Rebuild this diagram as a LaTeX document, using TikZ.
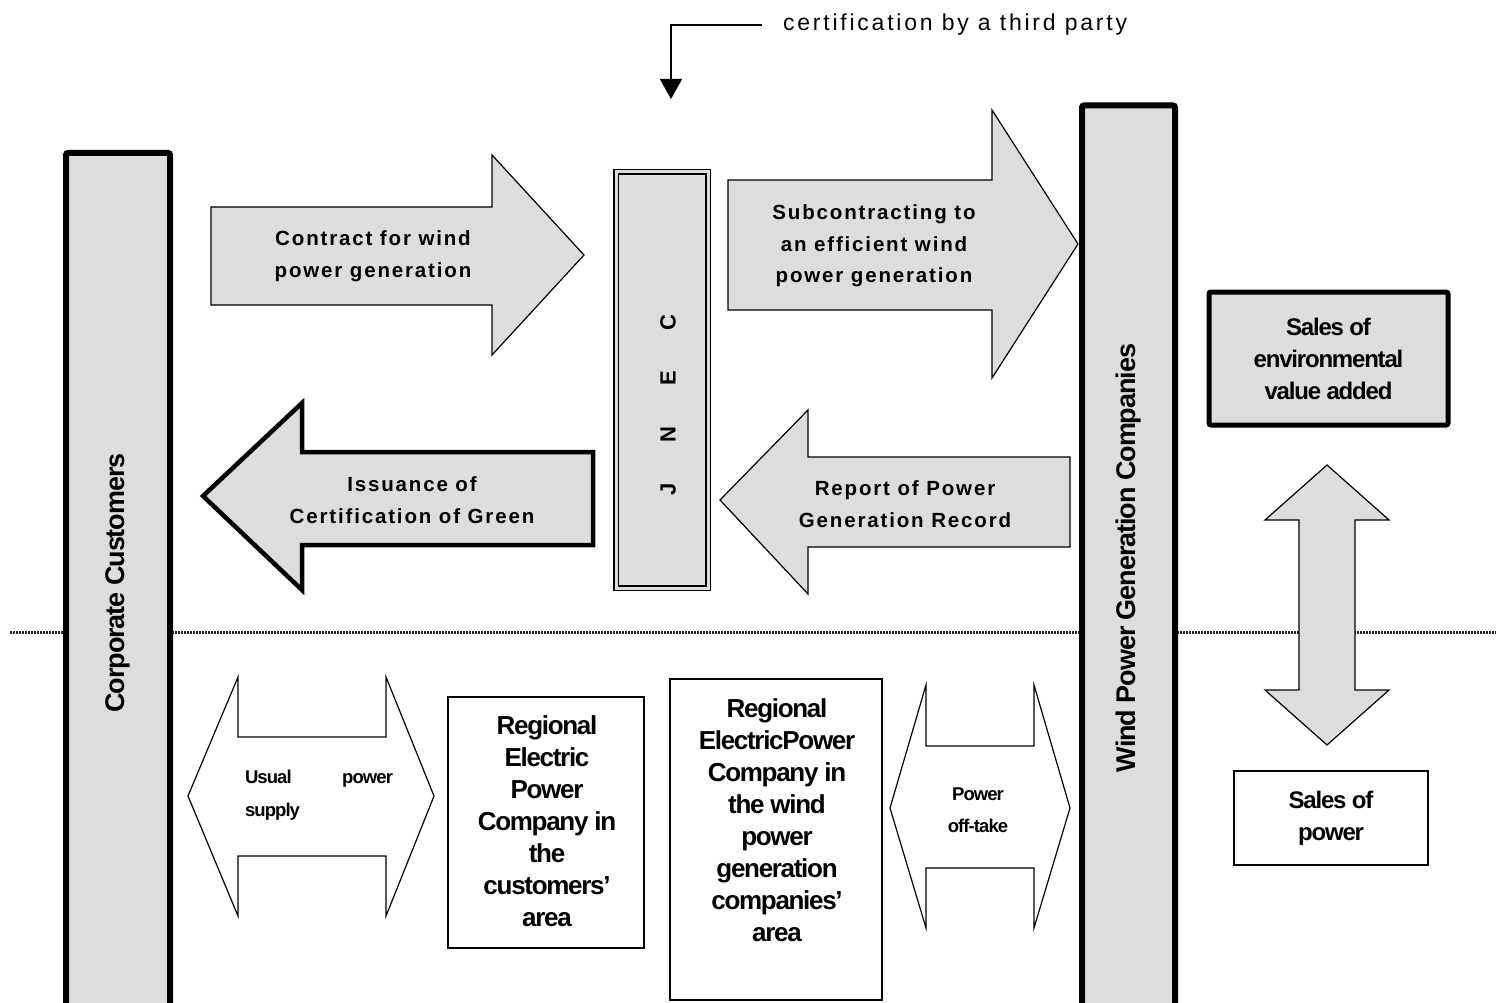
\documentclass[tikz,border=0pt]{standalone}
\usepackage{fontspec}
\setmainfont{Liberation Sans}
\usetikzlibrary{arrows.meta}
\definecolor{boxgray}{HTML}{DDDDDD}

\begin{document}
\begin{tikzpicture}
[%%%%%%%%%%%%%%%%%%%%%%%%%%%%%%
x=1pt,y=-1pt,
bar/.style={rectangle,draw=black,line width=6pt,fill=boxgray,rounded corners=2pt},
jnecbox/.style={rectangle,draw=black,double=boxgray,double distance=3pt,line width=1.2pt,fill=boxgray},
plainbox/.style={rectangle,draw=black,line width=1.5pt,fill=white},
fatarrow/.style={draw=black,line width=1.2pt,fill=boxgray,line join=miter},
openarrow/.style={draw=black,line width=1.2pt,fill=white,line join=miter},
uptxt/.style={font=\fontsize{20.5}{31.5}\selectfont\bfseries\addfontfeature{LetterSpace=9},align=center,inner sep=0pt},
lowtxt/.style={font=\fontsize{26}{32}\selectfont\bfseries\addfontfeature{LetterSpace=-5},align=center,inner sep=0pt},
saletxt/.style={font=\fontsize{24}{32}\selectfont\bfseries\addfontfeature{LetterSpace=-5},align=center},
smalltxt/.style={font=\fontsize{18.5}{32.5}\selectfont\bfseries\addfontfeature{LetterSpace=-5},inner sep=0pt},
bartxt/.style={font=\fontsize{27}{32}\selectfont\bfseries\addfontfeature{LetterSpace=-4}},
sepline/.style={line width=3.5pt,black!85,dash pattern=on 1.5pt off 1.5pt},
]%%%%%%%%%%%%%%%%%%%%%%%%%%%%%%
\useasboundingbox (0,0) rectangle (1496,1003);

% dotted border between the two levels
\draw[sepline] (10,632.5) -- (1496,632.5);

% the two big bars
\node[bar,bartxt,rotate=90,minimum width=860,minimum height=104] (corp) at (118,583) {Corporate Customers};
\node[bar,bartxt,rotate=90,minimum width=905,minimum height=93] (wind) at (1128.5,558) {Wind Power Generation Companies};

% JNEC
\node[jnecbox,rotate=90,minimum width=416,minimum height=92] (jnec) at (662,380) {};
\node[rotate=90,font=\fontsize{22}{24}\selectfont\bfseries,inner sep=0pt] (jnectxt) at (668,405) {\spaceskip=41pt\relax J N E C};

% third party
\node[font=\fontsize{23}{24}\selectfont\addfontfeature{LetterSpace=12},anchor=west,inner sep=0pt] (third) at (783,25) {certification by a third party};
\coordinate (thirdtip) at (671,99);
\draw[line width=1.5pt,-{Triangle[length=20pt,width=22pt]}] ([xshift=-21pt]third.west) -| (thirdtip);

% upper arrows
\draw[fatarrow] (211,207) -- (492,207) -- (492,155) -- (584,255) -- (492,355) -- (492,305) -- (211,305) -- cycle;
\node[uptxt] (contract) at (373,256) {Contract for wind\\power generation};

\draw[fatarrow] (728,180) -- (992,180) -- (992,110) -- (1078,244) -- (992,378) -- (992,310) -- (728,310) -- cycle;
\node[uptxt] (subcon) at (874,246) {Subcontracting to\\an efficient wind\\power generation};

\draw[fatarrow,line width=4.5pt] (593,452) -- (302,452) -- (302,403) -- (203,496) -- (302,590) -- (302,545) -- (593,545) -- cycle;
\node[uptxt] (issue) at (412,500) {Issuance of\\Certification of Green};

\draw[fatarrow] (1070,457) -- (808,457) -- (808,410) -- (720,500) -- (808,594) -- (808,547) -- (1070,547) -- cycle;
\node[uptxt] (report) at (905,504) {Report of Power\\Generation Record};

% right side
\node[bar,line width=5pt,saletxt,minimum width=239,minimum height=133] (envsale) at (1328.5,358.5) {Sales of\\environmental\\value added};
\node[plainbox,saletxt,minimum width=194,minimum height=94] (powsale) at (1331,818) {Sales of\\power};
\draw[fatarrow] (1327,465) -- (1389,520) -- (1355,520) -- (1355,690) -- (1389,690) -- (1327,745)
  -- (1265,690) -- (1299,690) -- (1299,520) -- (1265,520) -- cycle;

% lower level
\draw[openarrow] (188,796) -- (238,677) -- (238,737) -- (386,737) -- (386,677) -- (434,796)
  -- (386,916) -- (386,856) -- (238,856) -- (238,916) -- cycle;
\node[smalltxt,text width=148,align=left] (usual) at (319,795) {Usual\hfill power\\supply};

\node[plainbox,minimum width=196,minimum height=251] (reg1) at (546,822.5) {};
\node[lowtxt] (reg1txt) at (547,821) {Regional\\Electric\\Power\\Company in\\the\\customers’\\area};

\node[plainbox,minimum width=212,minimum height=321] (reg2) at (776,839.5) {};
\node[lowtxt] (reg2txt) at (777,820) {Regional\\ElectricPower\\Company in\\the wind\\power\\generation\\companies’\\area};

\draw[openarrow] (890,808) -- (926,685) -- (926,746) -- (1034,746) -- (1034,685) -- (1070,808)
  -- (1034,928) -- (1034,868) -- (926,868) -- (926,928) -- cycle;
\node[smalltxt,align=center] (offtake) at (978,810) {Power\\off-take};
\end{tikzpicture}
\end{document}
